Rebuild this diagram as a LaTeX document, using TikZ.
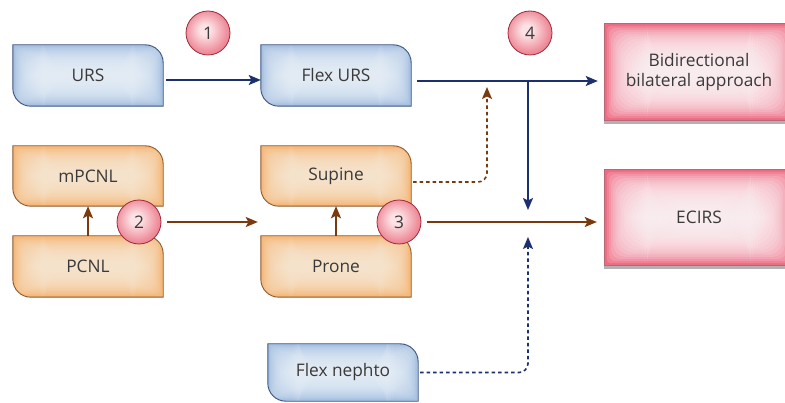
\documentclass[tikz,border=0pt]{standalone}
\usepackage{fontspec}
\setmainfont{Open Sans}
\usetikzlibrary{arrows.meta,backgrounds}
\definecolor{navy}{HTML}{1C2F6E}
\definecolor{brn}{HTML}{7B3A0E}
\definecolor{txt}{HTML}{3A3A3A}
\definecolor{blueedge}{HTML}{A3BEE0}
\definecolor{bluein}{HTML}{EAF1FA}
\definecolor{blueline}{HTML}{3D5580}
\definecolor{orgedge}{HTML}{F5B575}
\definecolor{orgin}{HTML}{FCE9D4}
\definecolor{orgline}{HTML}{8C5A2E}
\definecolor{pinkedge}{HTML}{EE6C83}
\definecolor{pinkin}{HTML}{FDF2F4}
\definecolor{pinkline}{HTML}{B86874}
\definecolor{cirin}{HTML}{FCE2E5}
\definecolor{cirout}{HTML}{EE8796}
\definecolor{cirline}{HTML}{9C2A3A}
\pgfdeclareradialshading{cirglow}{\pgfpoint{-4bp}{4bp}}{color(0bp)=(cirin);color(6bp)=(cirin);color(25bp)=(cirout);color(50bp)=(cirout)}
\newcommand\leafr{18pt}
\newcommand\leafpath[1]{(#1.north west) -- ([xshift=-\leafr]#1.north east) arc[start angle=90,end angle=0,radius=\leafr] -- (#1.south east) -- ([xshift=\leafr]#1.south west) arc[start angle=270,end angle=180,radius=\leafr] -- cycle}
\newcommand\rectpath[1]{(#1.north west) rectangle (#1.south east)}
% inner glow: #1 path, #2 node, #3 edge colour, #4 inner colour, #5 border colour, #6 max inset, #7 layer opacity
\newcommand\innerglow[7]{%
  \begin{scope}
    \clip #1;
    \fill[#3] #1;
    \foreach \k in {1,...,20} {
      \pgfmathsetmacro\dd{\k*#6/20}
      \pgfmathsetmacro\rc{\dd*1.3+1}
      \fill[#4, opacity=#7, rounded corners=\rc pt] ([shift={(\dd pt,-\dd pt)}]#2.north west) rectangle ([shift={(-\dd pt,\dd pt)}]#2.south east);
    }
  \end{scope}
  \draw[#5, line width=0.9pt] #1;
}
\tikzset{
  box/.style={rectangle, inner sep=0pt, minimum width=150pt, minimum height=61pt, text=txt},
  pinkbox/.style={rectangle, inner sep=0pt, minimum width=188pt, minimum height=96pt, align=center, text=txt},
  num/.style={circle, inner sep=0pt, minimum size=44pt, shading=cirglow, draw=cirline, line width=0.8pt, text=txt},
  navyarrow/.style={draw=navy, line width=1.6pt, -{Stealth[length=12pt,width=10pt,inset=2.5pt]}},
  brnarrow/.style={draw=brn, line width=1.6pt, -{Stealth[length=12pt,width=10pt,inset=2.5pt]}},
  dotline/.style={dash pattern=on 3.5pt off 3pt, rounded corners=9pt},
}
\begin{document}
\begin{tikzpicture}[x=1pt,y=1pt, font=\fontsize{17.3}{20.5}\selectfont]
\useasboundingbox (0,0) rectangle (785,402);
\clip (0,0) rectangle (785,402);
\node[box] (urs) at (88,326.5) {URS};
\node[box] (furs) at (336,326.5) {Flex URS};
\node[box, minimum height=60pt] (mp) at (88,226) {mPCNL};
\node[box] (pc) at (88,135.5) {PCNL};
\node[box, minimum height=60pt] (sup) at (336,226) {Supine};
\node[box] (pro) at (336,135.5) {Prone};
\node[box, minimum height=57pt] (fn) at (343,29.5) {Flex nephto};
\node[pinkbox] (bid) at (699,330) {Bidirectional\\bilateral approach};
\node[pinkbox, minimum height=95pt] (ec) at (699,184.5) {ECIRS};
\begin{scope}[on background layer]
  \innerglow{\leafpath{urs}}{urs}{blueedge}{bluein}{blueline}{30}{0.14}
  \innerglow{\leafpath{furs}}{furs}{blueedge}{bluein}{blueline}{30}{0.14}
  \innerglow{\leafpath{fn}}{fn}{blueedge}{bluein}{blueline}{30}{0.14}
  \innerglow{\leafpath{mp}}{mp}{orgedge}{orgin}{orgline}{30}{0.14}
  \innerglow{\leafpath{pc}}{pc}{orgedge}{orgin}{orgline}{30}{0.14}
  \innerglow{\leafpath{sup}}{sup}{orgedge}{orgin}{orgline}{30}{0.14}
  \innerglow{\leafpath{pro}}{pro}{orgedge}{orgin}{orgline}{30}{0.14}
  \fill[black, opacity=0.3] ([shift={(-1pt,-4pt)}]bid.north west) rectangle ([shift={(-1pt,-4pt)}]bid.south east);
  \fill[black, opacity=0.3] ([shift={(-1pt,-4pt)}]ec.north west) rectangle ([shift={(-1pt,-4pt)}]ec.south east);
  \innerglow{\rectpath{bid}}{bid}{pinkedge}{pinkin}{pinkline}{42}{0.17}
  \innerglow{\rectpath{ec}}{ec}{pinkedge}{pinkin}{pinkline}{42}{0.17}
\end{scope}
% junction coordinates
\coordinate (jtop) at (528,321);
\coordinate (jdown) at (528,192);
\coordinate (jup) at (528,165);
\coordinate (btip) at (487,315);
% connectors
\draw[navyarrow] ([xshift=3pt,yshift=-4.5pt]urs.east) -- ([yshift=-4.5pt]furs.west);
\draw[navyarrow, shorten >=7pt] ([xshift=6pt]furs.east |- jtop) -- (bid.west |- jtop);
\draw[navyarrow] (jtop) -- (jdown);
\draw[brnarrow] (pc.north) -- (mp.south);
\draw[brnarrow] (pro.north) -- (sup.south);
\draw[navyarrow, dotline, shorten <=2pt] (fn.east) -| (jup);
\draw[brnarrow, dotline, shorten <=2pt] ([yshift=-6pt]sup.east) -| (btip);
\node[num] (c1) at (208,369) {1};
\node[num] (c2) at (139,180) {2};
\node[num] (c3) at (399,180) {3};
\node[num] (c4) at (530,369) {4};
\draw[brnarrow, shorten <=6pt, shorten >=3pt] (c2.east) -- (sup.west |- c2.east);
\draw[brnarrow, shorten <=6pt, shorten >=8pt] (c3.east) -- (ec.west |- c3.east);
\end{tikzpicture}
\end{document}
